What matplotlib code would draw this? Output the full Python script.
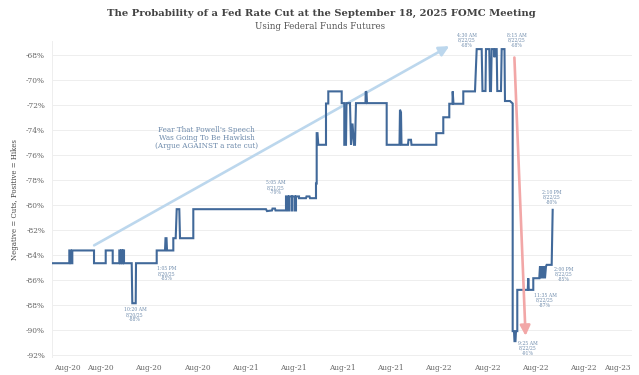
import numpy as np
import matplotlib
matplotlib.use('Agg')
import matplotlib.pyplot as plt

# observation index (intraday bars, Aug 20 -> Aug 22 2025) and implied probability (%)
obs = [0, 17.3, 17.3, 18.7, 18.7, 20.3, 20.3, 42, 42, 53.7, 53.7, 60.7, 60.7, 67.3, 67.3, 68.3,
       68.3, 69.3, 69.3, 70.3, 70.3, 71, 71, 72, 72, 79.7, 80.3, 83.7, 84, 104.7, 104.7, 113,
       113.5, 114.5, 115, 121.3, 121.3, 123.7, 124.7, 127.3, 128, 141.3, 141.3, 214, 215, 220,
       220.5, 223, 223.5, 234, 234, 236, 236, 237, 237, 239.5, 239.5, 240.5, 240.5, 243, 243,
       244, 244, 247, 247, 254, 254.5, 257.5, 258, 264, 264, 264.7, 264.7, 265.5, 266.3, 274,
       274, 276.3, 276.3, 289.7, 289.7, 292.3, 292.3, 294, 294.5, 298, 299, 300.5, 302, 303,
       304, 313.5, 313.7, 314.5, 315, 334.7, 334.7, 347.5, 348, 349, 349.5, 356, 356.5, 359,
       359.5, 384.3, 384.3, 391.3, 391.3, 397.3, 397.3, 400.5, 400.7, 401.5, 411.3, 411.3, 423,
       424.7, 429.7, 430.5, 433.5, 434, 437.3, 438, 439, 439.7, 442, 442.5, 443, 444.7, 445.3,
       449, 449.7, 452.5, 453, 458, 460.7, 460.7, 462, 462.5, 463.5, 464, 465.3, 465.3, 475.8,
       476.3, 476.8, 481.3, 481.3, 487.3, 488, 489, 490, 491, 492, 493, 494, 494.7, 499.7, 500.7]
prob = [-84.67, -84.67, -83.65, -83.65, -84.67, -84.67, -83.65, -83.65, -84.67, -84.67, -83.65,
        -83.65, -84.67, -84.67, -83.65, -83.65, -84.67, -84.67, -83.65, -83.65, -84.67, -84.67,
        -83.65, -83.65, -84.67, -84.67, -87.87, -87.87, -84.67, -84.67, -83.65, -83.65, -82.67,
        -82.67, -83.65, -83.65, -82.67, -82.67, -80.35, -80.35, -82.67, -82.67, -80.35, -80.35,
        -80.5, -80.45, -80.3, -80.3, -80.45, -80.45, -79.33, -79.33, -80.45, -80.45, -79.33,
        -79.33, -80.45, -80.45, -79.33, -79.33, -80.45, -80.45, -79.33, -79.33, -79.47, -79.47,
        -79.33, -79.33, -79.47, -79.47, -78.3, -78.3, -74.27, -74.27, -75.2, -75.2, -71.9, -71.9,
        -70.93, -70.93, -71.87, -71.87, -75.2, -75.2, -71.87, -71.87, -75.2, -73.5, -75.2, -75.2,
        -71.87, -71.87, -70.93, -71.0, -71.87, -71.87, -75.2, -75.2, -72.4, -72.6, -75.2, -75.2,
        -74.8, -74.8, -75.2, -75.2, -74.27, -74.27, -73.0, -73.0, -71.92, -71.92, -70.93, -71.92,
        -71.92, -70.93, -70.93, -67.55, -67.55, -70.9, -70.9, -67.55, -67.55, -70.9, -70.9,
        -67.55, -67.55, -68.2, -67.55, -67.55, -70.9, -70.9, -67.55, -67.55, -71.7, -71.7, -71.9,
        -90.1, -90.1, -90.9, -90.9, -90.1, -90.1, -86.8, -86.8, -85.87, -86.8, -86.8, -85.87,
        -85.87, -84.93, -85.87, -84.93, -85.87, -84.93, -85.87, -84.93, -84.8, -84.8, -80.4]

x_labels = ['Aug-20', 'Aug-20', 'Aug-20', 'Aug-20', 'Aug-21', 'Aug-21', 'Aug-21', 'Aug-21',
            'Aug-22', 'Aug-22', 'Aug-22', 'Aug-22', 'Aug-23']
y_ticks = [-68, -70, -72, -74, -76, -78, -80, -82, -84, -86, -88, -90, -92]

# callouts: text, obs, prob
notes = [('10:20 AM\n8/20/25\n-88%', 83, -88.8),
         ('1:05 PM\n8/20/25\n-85%', 115, -85.5),
         ('5:05 AM\n8/21/25\n-79%', 224, -78.65),
         ('4:30 AM\n8/22/25\n-68%', 414.7, -66.85),
         ('8:15 AM\n8/22/25\n-68%', 464.7, -66.85),
         ('9:25 AM\n8/22/25\n-91%', 475.5, -91.45),
         ('11:35 AM\n8/22/25\n-87%', 493, -87.65),
         ('2:00 PM\n8/22/25\n-85%', 511.3, -85.55),
         ('2:10 PM\n8/22/25\n-80%', 499.7, -79.4)]
fear_text = "Fear That Powell's Speech\nWas Going To Be Hawkish\n(Argue AGAINST a rate cut)"
fear_pos = (154.7, -74.65)
blue_arrow = [(39.7, -83.35), (399.7, -67.2)]
red_arrow = [(462.3, -68.0), (473.7, -90.7)]

plt.rcParams['font.family'] = ['DejaVu Serif']
line_c = '#41699a'
note_c = '#6d8aab'

fig = plt.figure(figsize=(6.39, 3.75), dpi=100)
ax = fig.add_axes([0.0814, 0.0453, 0.9076, 0.8454])

span = 580
grid_x = np.arange(13) * span / 12
tick_x = [15] + list(grid_x[1:12]) + [565]

ax.plot(obs, prob, color=line_c, lw=1.5, solid_joinstyle='miter', zorder=3)

ax.annotate('', xy=blue_arrow[1], xytext=blue_arrow[0],
            arrowprops=dict(arrowstyle='-|>,head_length=0.6,head_width=0.3', color='#bcd7ed', lw=1.9),
            zorder=2)
ax.annotate('', xy=red_arrow[1], xytext=red_arrow[0],
            arrowprops=dict(arrowstyle='-|>,head_length=0.6,head_width=0.3', color='#f2a7a7', lw=1.9),
            zorder=4)

for txt, x, y in notes:
    ax.text(x, y, txt, fontsize=3.3, color=note_c, ha='center', va='center',
            linespacing=1.0, clip_on=False, zorder=5)
ax.text(fear_pos[0], fear_pos[1], fear_text, fontsize=5.2, color=note_c, ha='center',
        va='center', linespacing=1.05)

ax.set_xlim(0, span)
ax.set_ylim(-92.25, -66.9)
ax.set_yticks(y_ticks)
ax.set_yticklabels([f'{v}%' for v in y_ticks])
ax.set_xticks(tick_x)
ax.set_xticklabels(x_labels)
ax.set_xticks(grid_x, minor=True)
ax.tick_params(axis='both', which='both', length=0, labelsize=5.3, colors='#666666')
ax.tick_params(axis='x', pad=4)
ax.tick_params(axis='y', pad=5)
ax.grid(False)
ax.grid(True, which='minor', axis='x', color='#eeeeee', lw=0.7)
ax.grid(True, which='major', axis='y', color='#eeeeee', lw=0.7)
for s in ax.spines.values():
    s.set_visible(False)

ax.set_ylabel('Negative = Cuts, Positive = Hikes', fontsize=5.0, color='#444444', labelpad=5)

fig.text(0.5023, 1 - 13 / 375, 'The Probability of a Fed Rate Cut at the September 18, 2025 FOMC Meeting',
         ha='center', va='center', fontsize=7.2, fontweight='bold', color='#444444')
fig.text(0.5008, 1 - 26.5 / 375, 'Using Federal Funds Futures', ha='center', va='center',
         fontsize=6.3, color='#555555')

fig.savefig('out.png', dpi=100)
